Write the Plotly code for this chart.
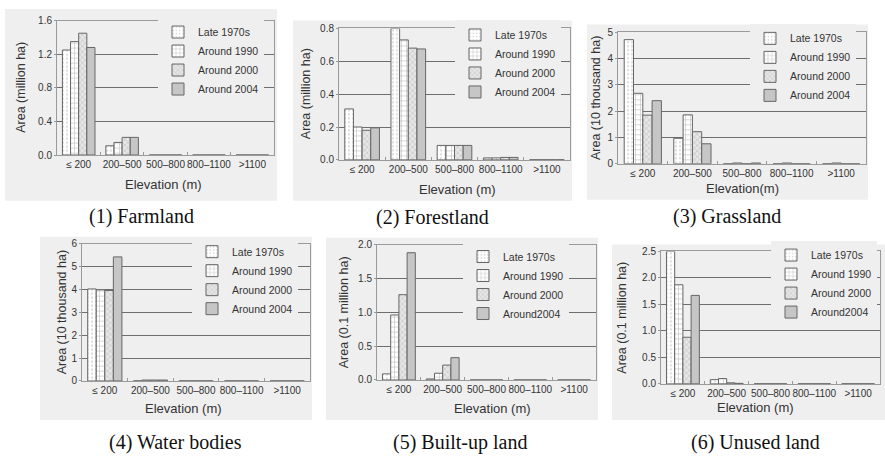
import plotly.graph_objects as go

W, H = 885, 460

categories = ["≤ 200", "200–500", "500–800", "800–1100", ">1100"]
series_names = ["Late 1970s", "Around 1990", "Around 2000", "Around 2004"]
series_names_alt = ["Late 1970s", "Around 1990", "Around 2000", "Around2004"]

# (1) Farmland, million ha
farmland_late1970s = [1.25, 0.11, 0, 0, 0]
farmland_1990 = [1.35, 0.15, 0, 0, 0]
farmland_2000 = [1.45, 0.21, 0, 0, 0]
farmland_2004 = [1.28, 0.21, 0, 0, 0]

# (2) Forestland, million ha
forest_late1970s = [0.31, 0.80, 0.088, 0.012, 0]
forest_1990 = [0.20, 0.73, 0.088, 0.012, 0]
forest_2000 = [0.18, 0.68, 0.088, 0.015, 0]
forest_2004 = [0.195, 0.675, 0.088, 0.015, 0]

# (3) Grassland, 10 thousand ha
grass_late1970s = [4.72, 0.97, 0, 0, 0]
grass_1990 = [2.68, 1.86, 0.03, 0.03, 0.03]
grass_2000 = [1.85, 1.22, 0, 0, 0]
grass_2004 = [2.40, 0.76, 0.03, 0, 0]

# (4) Water bodies, 10 thousand ha
water_late1970s = [4.02, 0, 0, 0, 0]
water_1990 = [3.98, 0.04, 0, 0, 0]
water_2000 = [3.95, 0.04, 0, 0, 0]
water_2004 = [5.42, 0.04, 0, 0, 0]

# (5) Built-up land, 0.1 million ha
built_late1970s = [0.09, 0.015, 0, 0, 0]
built_1990 = [0.96, 0.10, 0, 0, 0]
built_2000 = [1.26, 0.22, 0, 0, 0]
built_2004 = [1.88, 0.33, 0, 0, 0]

# (6) Unused land, 0.1 million ha
unused_late1970s = [2.50, 0.08, 0, 0, 0]
unused_1990 = [1.87, 0.10, 0, 0, 0]
unused_2000 = [0.88, 0.02, 0, 0, 0]
unused_2004 = [1.67, 0.01, 0, 0, 0]

panels = [
    dict(data=[farmland_late1970s, farmland_1990, farmland_2000, farmland_2004],
         names=series_names, ytitle="Area (million ha)", xtitle="Elevation (m)",
         caption="(1) Farmland", yrange=[0, 1.6], dtick=0.4, fmt=".1f",
         plot=(57, 274, 15, 153), bg=(5, 277, 3, 200),
         ytx=21, xtt=(163, 183), cap=(141, 216), leg=(198, 56)),
    dict(data=[forest_late1970s, forest_1990, forest_2000, forest_2004],
         names=series_names, ytitle="Area (million ha)", xtitle="Elevation (m)",
         caption="(2) Forestland", yrange=[0, 0.8], dtick=0.2, fmt=".1f",
         plot=(339, 570, 23, 158), bg=(293, 572, 15, 200),
         ytx=306, xtt=(457, 188), cap=(432, 217), leg=(495, 59)),
    dict(data=[grass_late1970s, grass_1990, grass_2000, grass_2004],
         names=series_names, ytitle="Area (10 thousand ha)", xtitle="Elevation(m)",
         caption="(3) Grassland", yrange=[0, 5], dtick=1, fmt="d",
         plot=(618, 866, 27, 162), bg=(587, 868, 19, 199),
         ytx=596, xtt=(742, 187), cap=(727, 216), leg=(790, 62.5)),
    dict(data=[water_late1970s, water_1990, water_2000, water_2004],
         names=series_names, ytitle="Area (10 thousand ha)", xtitle="Elevation (m)",
         caption="(4) Water bodies", yrange=[0, 6], dtick=1, fmt="d",
         plot=(82, 310, 244, 385), bg=(40, 312, 237, 425),
         ytx=62, xtt=(183, 413), cap=(175, 448), leg=(232, 281.5)),
    dict(data=[built_late1970s, built_1990, built_2000, built_2004],
         names=series_names_alt, ytitle="Area (0.1 million ha)", xtitle="Elevation (m)",
         caption="(5) Built-up land", yrange=[0, 2.0], dtick=0.5, fmt=".1f",
         plot=(377, 596, 245, 384), bg=(326, 598, 238, 425),
         ytx=344, xtt=(493, 413), cap=(460, 448), leg=(503, 286.5)),
    dict(data=[unused_late1970s, unused_1990, unused_2000, unused_2004],
         names=series_names_alt, ytitle="Area (0.1 million ha)", xtitle="Elevation (m)",
         caption="(6) Unused land", yrange=[0, 2.5], dtick=0.5, fmt=".1f",
         plot=(661, 880, 252, 388), bg=(612, 885, 245, 425),
         ytx=622, xtt=(755, 412), cap=(755, 448), leg=(811, 285)),
]

styles = [
    dict(color="#ffffff", pattern=dict(shape=".", fgcolor="#b8b8b8", bgcolor="#ffffff", size=4, solidity=0.25)),
    dict(color="#ffffff", pattern=dict(shape="+", fgcolor="#8a8a8a", bgcolor="#ffffff", size=5, solidity=0.25)),
    dict(color="#e2e2e2", pattern=dict(shape="x", fgcolor="#a0a0a0", bgcolor="#e6e6e6", size=4, solidity=0.3)),
    dict(color="#c6c6c6", pattern=dict(shape="")),
]

BG = "#efefef"
SANS = "Liberation Sans, Arial, sans-serif"
SERIF = "Liberation Serif, Times New Roman, serif"


def px(x):
    return x / W


def py(y):
    return 1 - y / H


fig = go.Figure()
shapes = []
annotations = []
layout = {}

for i, p in enumerate(panels):
    k = i + 1
    xa = "x" if k == 1 else f"x{k}"
    ya = "y" if k == 1 else f"y{k}"
    lg = "legend" if k == 1 else f"legend{k}"
    for j, vals in enumerate(p["data"]):
        st = styles[j]
        fig.add_trace(go.Bar(
            x=categories, y=vals, name=p["names"][j],
            xaxis=xa, yaxis=ya, legend=lg,
            marker=dict(color=st["color"], pattern=st["pattern"],
                        line=dict(color="#666666", width=1)),
        ))
    x0, x1, y0, y1 = p["plot"]
    xkey = "xaxis" if k == 1 else f"xaxis{k}"
    ykey = "yaxis" if k == 1 else f"yaxis{k}"
    layout[xkey] = dict(
        domain=[px(x0), px(x1)], anchor=ya, type="category",
        categoryorder="array", categoryarray=categories,
        range=[-0.5, 4.5], showgrid=False, showline=True, linecolor="#9a9a9a",
        linewidth=1, mirror=True, ticks="inside", tickson="boundaries",
        ticklen=3, tickcolor="#9a9a9a", tickangle=0,
        tickfont=dict(family=SANS, size=10, color="#333"), fixedrange=True,
    )
    layout[ykey] = dict(
        domain=[py(y1), py(y0)], anchor=xa, range=p["yrange"], dtick=p["dtick"],
        tick0=0, tickformat=p["fmt"], showgrid=True, gridcolor="#6e6e6e",
        gridwidth=1.3, showline=True, linecolor="#9a9a9a", linewidth=1,
        mirror=True, ticks="outside", ticklen=2, tickcolor="#9a9a9a",
        zeroline=False,
        tickfont=dict(family=SANS, size=10, color="#333"), fixedrange=True,
    )
    lx, lyc = p["leg"]
    layout[lg] = dict(
        x=px(lx - 40), y=py(lyc), xanchor="left", yanchor="middle",
        xref="paper", yref="paper",
        bgcolor=BG, borderwidth=0, itemwidth=30,
        font=dict(family=SANS, size=10.5, color="#333"),
        itemclick=False, itemdoubleclick=False,
    )
    bx0, bx1, by0, by1 = p["bg"]
    shapes.append(dict(type="rect", xref="paper", yref="paper",
                       x0=px(bx0), x1=px(bx1), y0=py(by1), y1=py(by0),
                       fillcolor=BG, line=dict(width=0), layer="below"))
    annotations.append(dict(text=p["ytitle"], x=px(p["ytx"]), y=py((y0 + y1) / 2),
                            xref="paper", yref="paper", showarrow=False, textangle=-90,
                            font=dict(family=SANS, size=12.5, color="#333"),
                            xanchor="center", yanchor="middle"))
    annotations.append(dict(text=p["xtitle"], x=px(p["xtt"][0]), y=py(p["xtt"][1]),
                            xref="paper", yref="paper", showarrow=False,
                            font=dict(family=SANS, size=13, color="#333"),
                            xanchor="center", yanchor="middle"))
    annotations.append(dict(text=p["caption"], x=px(p["cap"][0]), y=py(p["cap"][1]),
                            xref="paper", yref="paper", showarrow=False,
                            font=dict(family=SERIF, size=20, color="#111"),
                            xanchor="center", yanchor="middle"))

fig.update_layout(
    width=W, height=H, margin=dict(l=0, r=0, t=0, b=0),
    paper_bgcolor="white", plot_bgcolor=BG,
    barmode="group", bargap=0.25, bargroupgap=0,
    shapes=shapes, annotations=annotations, **layout,
)

fig.write_html("out.html")
